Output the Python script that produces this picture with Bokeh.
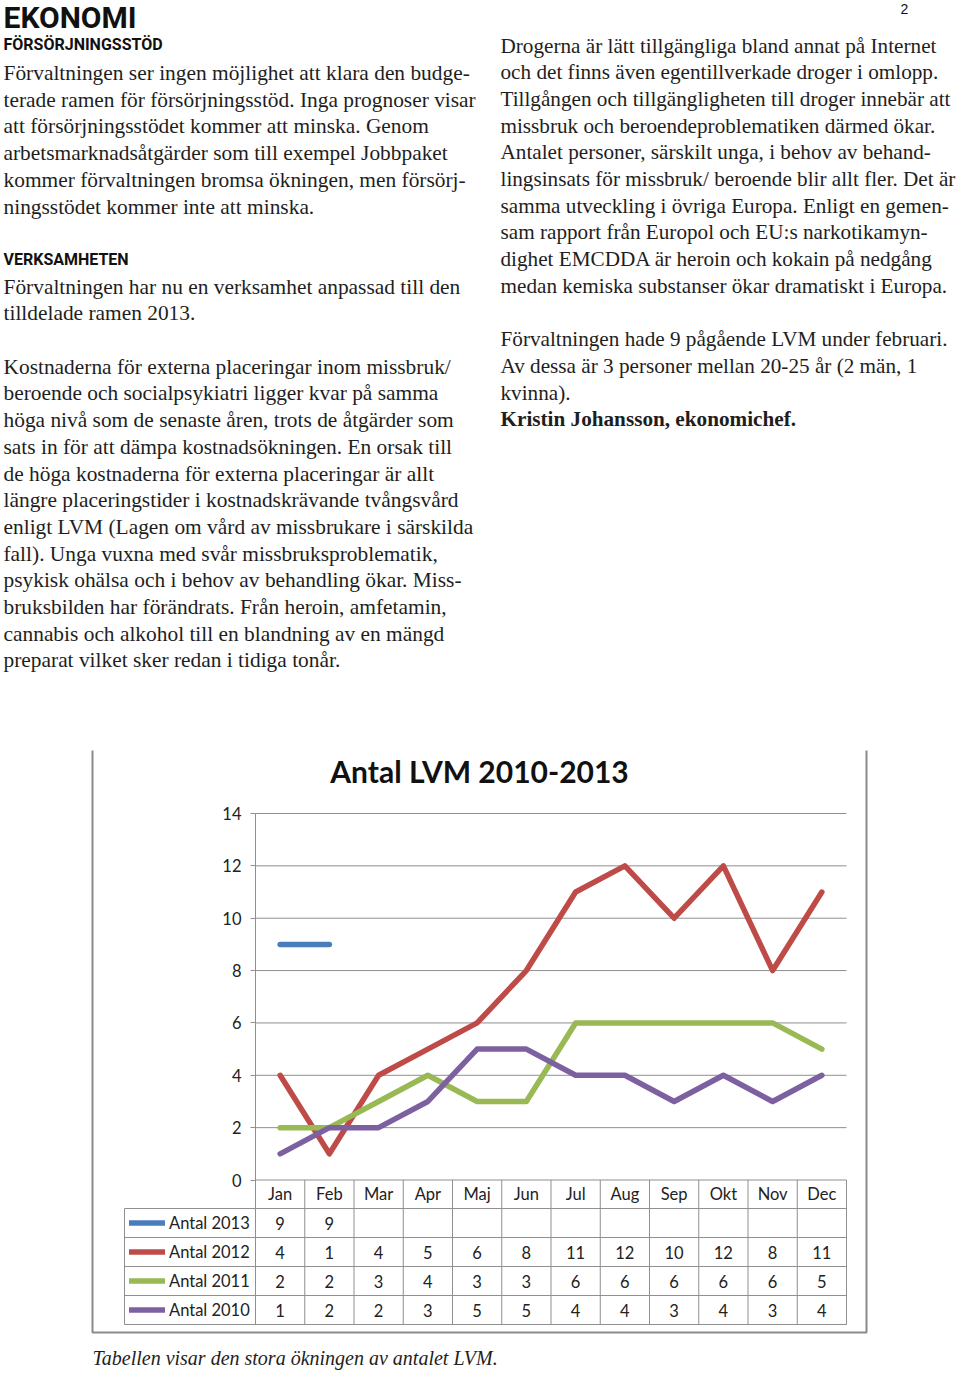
from bokeh.plotting import figure
from bokeh.models import Range1d, FixedTicker, Legend, LegendItem, LinearAxis
from bokeh.embed import file_html
from bokeh.resources import INLINE
from bokeh.core.properties import value

# ---------------- data ----------------
months = ["Jan", "Feb", "Mar", "Apr", "Maj", "Jun", "Jul", "Aug", "Sep", "Okt", "Nov", "Dec"]
series_names = ["Antal 2013", "Antal 2012", "Antal 2011", "Antal 2010"]
antal_2013 = [9, 9, None, None, None, None, None, None, None, None, None, None]
antal_2012 = [4, 1, 4, 5, 6, 8, 11, 12, 10, 12, 8, 11]
antal_2011 = [2, 2, 3, 4, 3, 3, 6, 6, 6, 6, 6, 5]
antal_2010 = [1, 2, 2, 3, 5, 5, 4, 4, 3, 4, 3, 4]
series_colors = ["#4a7ebb", "#be4b48", "#98b954", "#7d60a0"]
y_ticks = [0, 2, 4, 6, 8, 10, 12, 14]
chart_title = "Antal LVM 2010-2013"
caption = "Tabellen visar den stora ökningen av antalet LVM."

page_heading = "EKONOMI"
page_number = "2"
heading_1 = "FÖRSÖRJNINGSSTÖD"
heading_2 = "VERKSAMHETEN"
left_lines = [
    (0, "Förvaltningen ser ingen möjlighet att klara den budge-"),
    (1, "terade ramen för försörjningsstöd. Inga prognoser visar"),
    (2, "att försörjningsstödet kommer att minska. Genom"),
    (3, "arbetsmarknadsåtgärder som till exempel Jobbpaket"),
    (4, "kommer förvaltningen bromsa ökningen, men försörj-"),
    (5, "ningsstödet kommer inte att minska."),
    (8, "Förvaltningen har nu en verksamhet anpassad till den"),
    (9, "tilldelade ramen 2013."),
    (11, "Kostnaderna för externa placeringar inom missbruk/"),
    (12, "beroende och socialpsykiatri ligger kvar på samma"),
    (13, "höga nivå som de senaste åren, trots de åtgärder som"),
    (14, "sats in för att dämpa kostnadsökningen. En orsak till"),
    (15, "de höga kostnaderna för externa placeringar är allt"),
    (16, "längre placeringstider i kostnadskrävande tvångsvård"),
    (17, "enligt LVM (Lagen om vård av missbrukare i särskilda"),
    (18, "fall). Unga vuxna med svår missbruksproblematik,"),
    (19, "psykisk ohälsa och i behov av behandling ökar. Miss-"),
    (20, "bruksbilden har förändrats. Från heroin, amfetamin,"),
    (21, "cannabis och alkohol till en blandning av en mängd"),
    (22, "preparat vilket sker redan i tidiga tonår."),
]
right_lines = [
    (0, "Drogerna är lätt tillgängliga bland annat på Internet"),
    (1, "och det finns även egentillverkade droger i omlopp."),
    (2, "Tillgången och tillgängligheten till droger innebär att"),
    (3, "missbruk och beroendeproblematiken därmed ökar."),
    (4, "Antalet personer, särskilt unga, i behov av behand-"),
    (5, "lingsinsats för missbruk/ beroende blir allt fler. Det är"),
    (6, "samma utveckling i övriga Europa. Enligt en gemen-"),
    (7, "sam rapport från Europol och EU:s narkotikamyn-"),
    (8, "dighet EMCDDA är heroin och kokain på nedgång"),
    (9, "medan kemiska substanser ökar dramatiskt i Europa."),
    (11, "Förvaltningen hade 9 pågående LVM under februari."),
    (12, "Av dessa är 3 personer mellan 20-25 år (2 män, 1"),
    (13, "kvinna)."),
]
signature = (14, "Kristin Johansson, ekonomichef.")

# ---------------- styles / layout (pixels) ----------------
W, H = 960, 1373
TXT = "#1e1e1e"
SERIF = value("Liberation Serif")
LEFT_SIZE, RIGHT_SIZE = "21.4px", "21.2px"
GRID = "#8f8f8f"
CHART_FONT = "Lato"
TABLE_TXT = "#222222"
LINE_W = 5.5

# chart geometry in pixels
FR_L, FR_R, FR_T = 255, 846, 813
Y0_PX = 1179.5
U = (Y0_PX - FR_T) / 14.0
CW = (FR_R - FR_L) / 12.0
row_edges_px = [Y0_PX, 1208, 1237, 1266, 1295, 1324]
y_bot = -(row_edges_px[-1] - Y0_PX) / U


def cy(py):
    return (Y0_PX - py) / U


def cx(px):
    return (px - FR_L) / CW


p = figure(width=W, height=H, x_range=Range1d(0, W), y_range=Range1d(H, 0),
           output_backend="svg", toolbar_location=None, min_border=0,
           x_axis_type=None, y_axis_type=None, outline_line_color=None)
p.grid.visible = False
p.extra_x_ranges = {"chart": Range1d(cx(0), cx(W))}
p.extra_y_ranges = {"chart": Range1d(cy(H), cy(0))}
CH = dict(x_range_name="chart", y_range_name="chart")

# ---------------- document text ----------------
L_X, R_X = 3, 500
L_BASE, R_BASE, PITCH = 72.5, 45.0, 26.7

p.text(x=[L_X] * len(left_lines), y=[L_BASE + PITCH * i for i, _ in left_lines],
       text=[t for _, t in left_lines], text_font=SERIF, text_font_size=LEFT_SIZE,
       text_baseline="alphabetic", text_color=TXT)
p.text(x=[R_X] * len(right_lines), y=[R_BASE + PITCH * i for i, _ in right_lines],
       text=[t for _, t in right_lines], text_font=SERIF, text_font_size=RIGHT_SIZE,
       text_baseline="alphabetic", text_color=TXT)
p.text(x=[R_X], y=[R_BASE + PITCH * signature[0]], text=[signature[1]],
       text_font=SERIF, text_font_size=RIGHT_SIZE, text_font_style="bold",
       text_baseline="alphabetic", text_color=TXT)
p.text(x=[L_X], y=[17], text=[page_heading], text_font=value("Roboto"),
       text_font_size="30px", text_font_style="bold", text_baseline="alphabetic", text_color="#111")
p.text(x=[L_X, L_X], y=[44, 259], text=[heading_1, heading_2], text_font=value("Roboto"),
       text_font_size="16px", text_font_style="bold", text_baseline="alphabetic", text_color="#111")
p.text(x=[904], y=[8], text=[page_number], text_font=value("Liberation Sans"),
       text_font_size="14px", text_align="center", text_baseline="alphabetic", text_color="#111")

# ---------------- chart frame / table grid ----------------
# outer chart border (left, bottom, right)
p.multi_line(xs=[[92, 92, 866, 866]], ys=[[750, 1332, 1332, 750]],
             line_color="#8a8a8a", line_width=2)

# horizontal gridlines at the tick values
p.segment(x0=[0] * len(y_ticks), x1=[12] * len(y_ticks), y0=y_ticks, y1=y_ticks,
          line_color=GRID, line_width=1, level="underlay", **CH)
# table vertical lines
vx = list(range(1, 13))
p.segment(x0=vx, x1=vx, y0=[0] * len(vx), y1=[y_bot] * len(vx),
          line_color=GRID, line_width=1, level="underlay", **CH)
# table horizontal lines (header bottom and row bottoms, across label column)
hy = [cy(v) for v in row_edges_px[1:]]
p.segment(x0=[cx(124)] * len(hy), x1=[12] * len(hy), y0=hy, y1=hy,
          line_color=GRID, line_width=1, level="underlay", **CH)
# label-column left border
p.segment(x0=[cx(124)], x1=[cx(124)], y0=[hy[0]], y1=[y_bot],
          line_color=GRID, line_width=1, level="underlay", **CH)

# y axis through the table edge
yax = LinearAxis(fixed_location=0, bounds=(y_bot, 14), ticker=FixedTicker(ticks=y_ticks), **CH)
yax.axis_line_color = GRID
yax.major_tick_line_color = GRID
yax.major_tick_out = 5
yax.major_tick_in = 0
yax.minor_tick_line_color = None
yax.major_label_text_font = CHART_FONT
yax.major_label_text_font_size = "16.5px"
yax.major_label_text_color = TABLE_TXT
yax.major_label_standoff = 9
p.add_layout(yax, "left")

# ---------------- series ----------------
all_series = [antal_2013, antal_2012, antal_2011, antal_2010]
renderers = []
for vals, col in zip(all_series, series_colors):
    xs = [i + 0.5 for i, v in enumerate(vals) if v is not None]
    ys = [v for v in vals if v is not None]
    r = p.line(xs, ys, line_color=col, line_width=LINE_W, line_cap="round", line_join="round", **CH)
    renderers.append(r)

# ---------------- table texts ----------------
hdr_y = cy((row_edges_px[0] + row_edges_px[1]) / 2)
p.text(x=[i + 0.5 for i in range(12)], y=[hdr_y] * 12, text=months,
       text_font=value(CHART_FONT), text_font_size="16.5px", text_align="center",
       text_baseline="middle", text_color=TABLE_TXT, **CH)
tx, ty, tt = [], [], []
for r, vals in enumerate(all_series):
    yc = cy((row_edges_px[r + 1] + row_edges_px[r + 2]) / 2)
    for i, v in enumerate(vals):
        if v is not None:
            tx.append(i + 0.5)
            ty.append(yc)
            tt.append(str(v))
p.text(x=tx, y=ty, text=tt, text_font=value(CHART_FONT), text_font_size="16.5px",
       text_align="center", text_baseline="middle", text_color=TABLE_TXT, **CH)

legend = Legend(items=[LegendItem(label=n, renderers=[r]) for n, r in zip(series_names, renderers)],
                location=(129, H - row_edges_px[-1]),
                orientation="vertical", margin=0, padding=0, spacing=0,
                glyph_width=36, glyph_height=29, label_height=29, label_standoff=4,
                label_text_font=CHART_FONT, label_text_font_size="16.5px", label_text_color=TABLE_TXT,
                border_line_color=None, background_fill_alpha=0)
p.add_layout(legend)

# chart title
p.text(x=[479], y=[770], text=[chart_title], text_font=value(CHART_FONT), text_font_style="bold",
       text_font_size="30px", text_align="center", text_baseline="middle", text_color="#111")

# caption
p.text(x=[92], y=[1357], text=[caption], text_font=SERIF, text_font_size="20px",
       text_font_style="italic", text_baseline="alphabetic", text_color=TXT)

open("out.html", "w").write(file_html(p, INLINE))
